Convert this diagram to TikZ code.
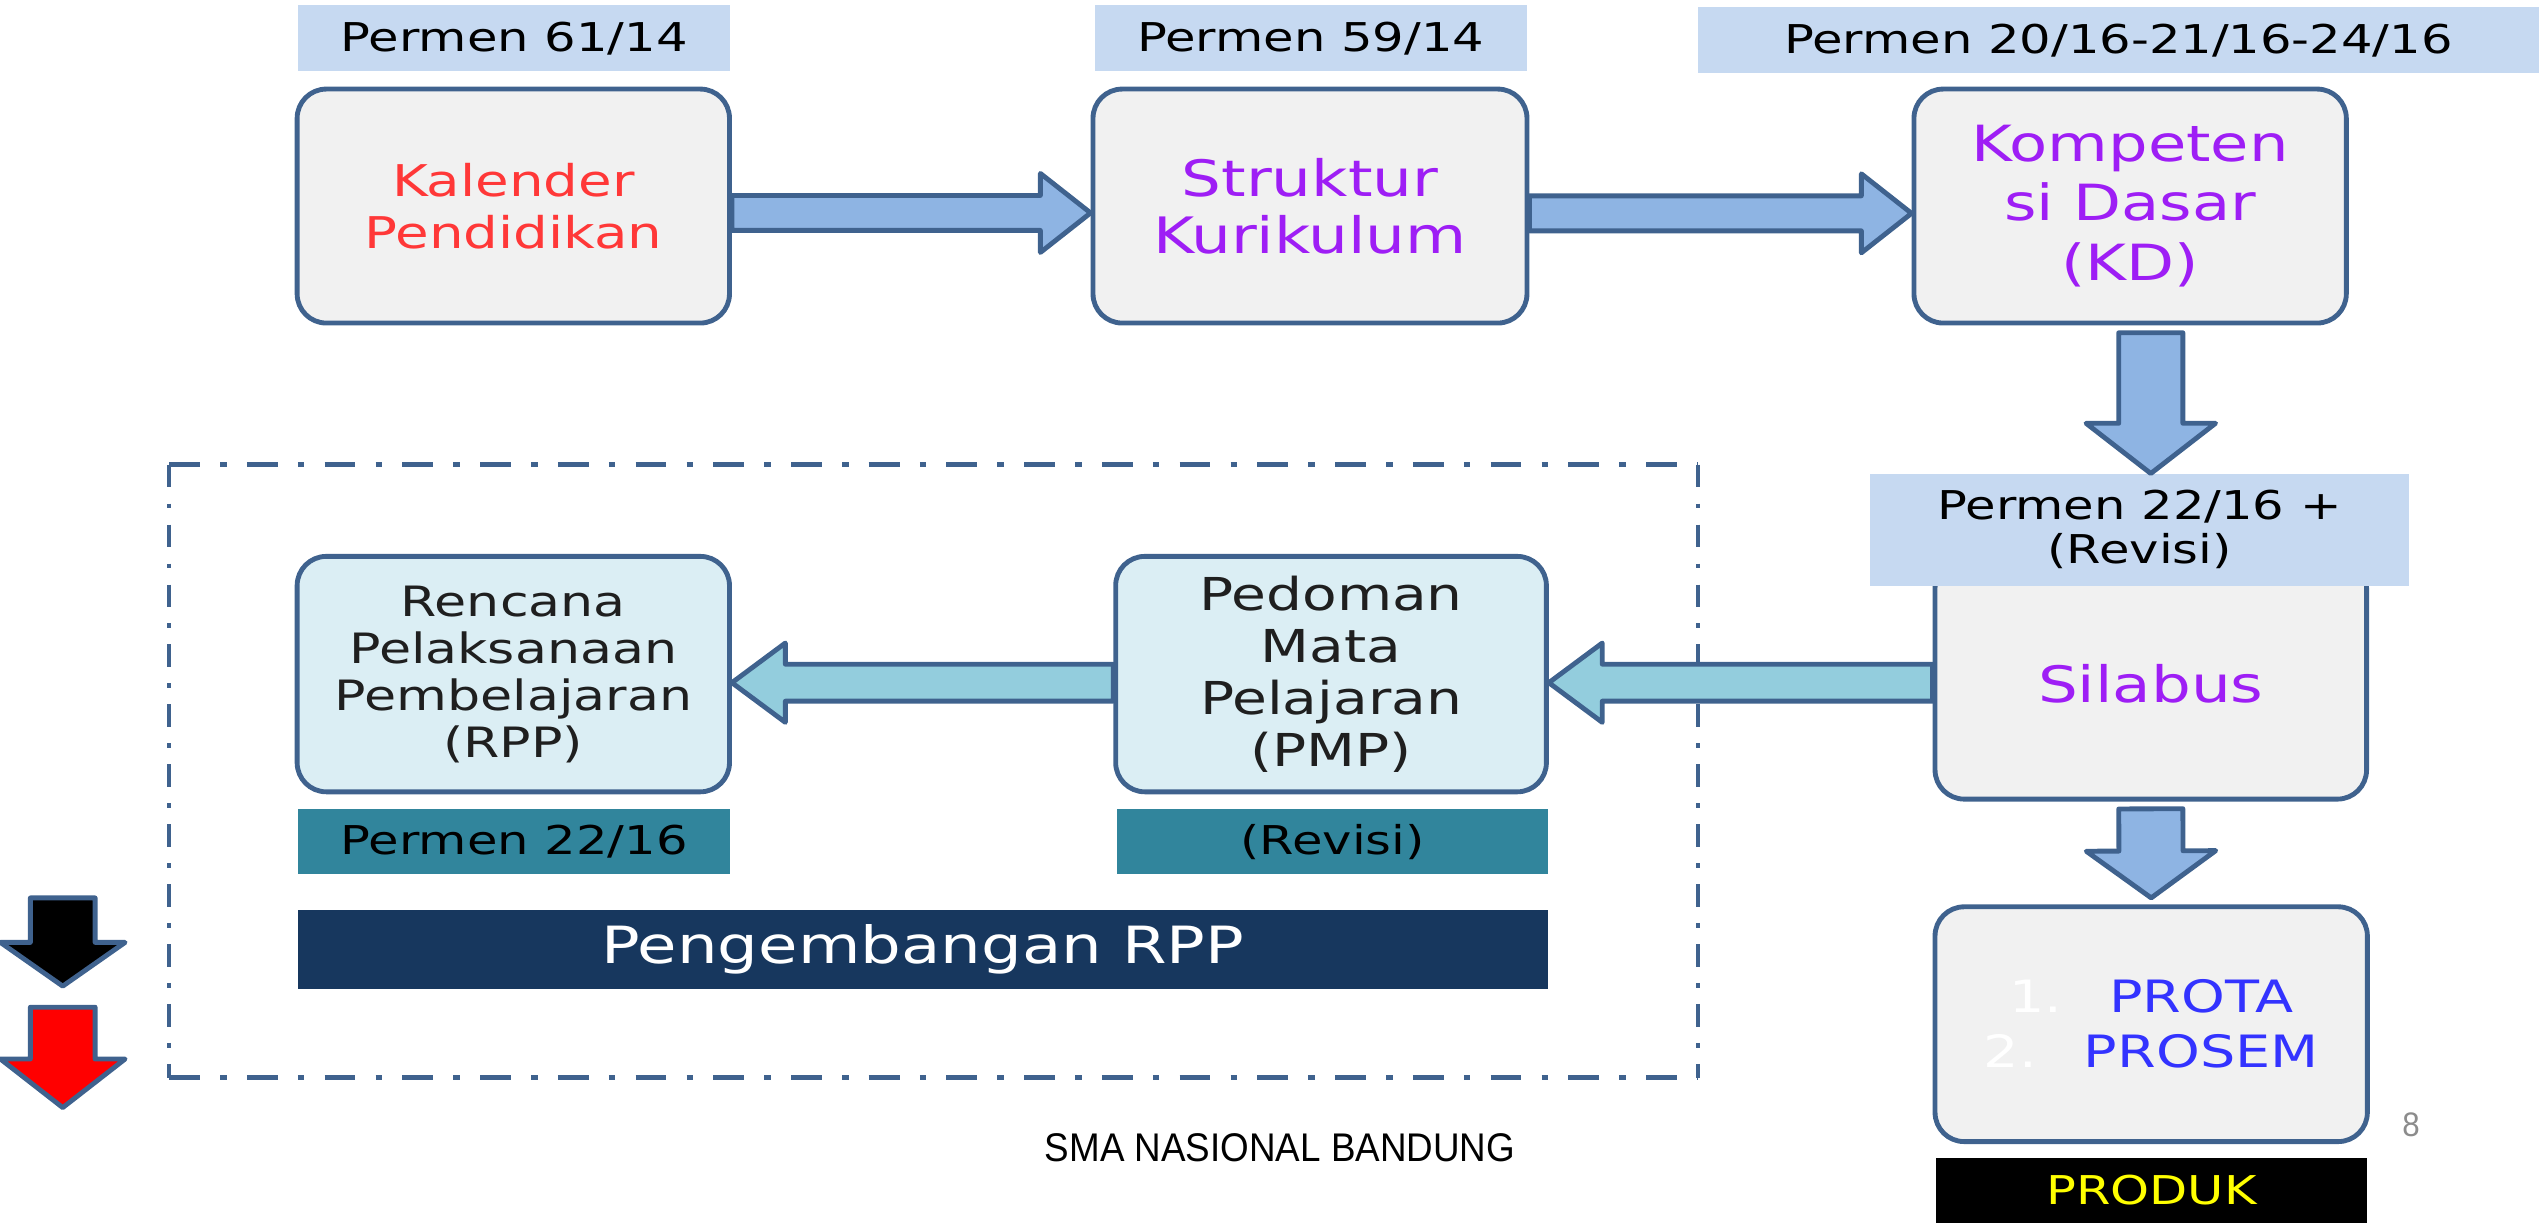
\documentclass[tikz,border=0pt]{standalone}
\usepackage{fontspec}
\setmainfont{DejaVu Sans}[FakeStretch=1.25]
\newfontfamily\smafont{Liberation Sans}[FakeStretch=0.92]
\usetikzlibrary{calc}

\definecolor{edgeblue}{RGB}{63,98,142}
\definecolor{boxgray}{RGB}{241,241,241}
\definecolor{paleblue}{RGB}{219,238,244}
\definecolor{lblue}{RGB}{198,217,241}
\definecolor{arrowblue}{RGB}{142,180,227}
\definecolor{arrowteal}{RGB}{147,205,221}
\definecolor{tealbar}{RGB}{49,133,156}
\definecolor{navybar}{RGB}{23,55,94}
\definecolor{kalred}{RGB}{255,56,56}
\definecolor{kdviolet}{RGB}{158,30,245}
\definecolor{protablue}{RGB}{51,51,255}
\definecolor{produkyellow}{RGB}{255,255,0}
\definecolor{pagegray}{RGB}{140,140,140}

\tikzset{
  fat shaft/.store in=\fatw, fat head/.store in=\fatW, fat len/.store in=\fatL,
  fat shaft=11pt, fat head=24pt, fat len=31pt,
  fatarrow/.style={draw=edgeblue, line width=3pt, line join=round,
    to path={($(\tikztotarget)!\fatL!(\tikztostart)$) coordinate (fb)
      ($(\tikztostart)!\fatw!90:(\tikztotarget)$)
      -- ($(fb)!\fatw!90:(\tikztotarget)$)
      -- ($(fb)!\fatW!90:(\tikztotarget)$)
      -- (\tikztotarget)
      -- ($(fb)!\fatW!-90:(\tikztotarget)$)
      -- ($(fb)!\fatw!-90:(\tikztotarget)$)
      -- ($(\tikztostart)!\fatw!-90:(\tikztotarget)$) -- cycle}}
}

\begin{document}
\begin{tikzpicture}[x=1pt,y=-1pt,
    box/.style={draw=edgeblue, line width=3pt, rounded corners=18pt, fill=boxgray,
      minimum width=267pt, minimum height=144.5pt, align=center, inner sep=2pt},
    lbox/.style={box, fill=paleblue, text={black!88}, minimum height=145.4pt},
    bar/.style={inner sep=0pt, minimum height=41pt, align=center,
      font=\fontsize{24.5}{27}\selectfont},
    frameline/.style={edgeblue, line width=2.8pt}]
  \useasboundingbox (0,0) rectangle (1568,755);

  % top row
  \node[box, text=kalred, font=\fontsize{27}{32.3}\selectfont] (kal) at (317,127.25) {Kalender\\Pendidikan};
  \node[box, text=kdviolet, font=\fontsize{31}{35}\selectfont, minimum width=268pt] (struk) at (809,127.25) {Struktur\\Kurikulum};
  \node[box, text=kdviolet, font=\fontsize{30.8}{36.5}\selectfont] (kd) at (1315.5,127.25) {Kompeten\\si Dasar\\(KD)};

  \node[bar, fill=lblue, minimum width=267pt] (p6114) at (317.5,23.65) {Permen 61/14};
  \node[bar, fill=lblue, minimum width=267pt] (p5914) at (809.5,23.65) {Permen 59/14};
  \node[bar, fill=lblue, minimum width=519.4pt] (p2016) at (1308.3,24.85) {Permen 20/16-21/16-24/16};

  % right column
  \node[box, text=kdviolet, font=\fontsize{31}{36}\selectfont, minimum width=266.5pt, minimum height=148.5pt] (silabus) at (1328.25,419.25) {\raisebox{-3pt}[\height][0pt]{Silabus}};
  \node[bar, fill=lblue, minimum width=332.7pt, minimum height=69pt] (p2216) at (1321.4,327.1) {Permen 22/16 +\\(Revisi)};
  \node[box, text=protablue, font=\fontsize{27.5}{34}\selectfont, minimum height=145pt] (prota) at (1328.5,632.5)
    {{\color{white}1.}\hspace{29pt}PROTA\\{\color{white}2.}\hspace{29pt}PROSEM};
  \node[bar, fill=black, text=produkyellow, minimum width=266.1pt, minimum height=40pt] (produk) at (1328.65,735) {PRODUK};

  % RPP part
  \draw[frameline, dash pattern=on 19pt off 12.5pt on 4pt off 12.5pt] (104.5,287) -- (1048.6,287) (104.5,665.5) -- (1048.6,665.5);
  \draw[frameline, dash pattern=on 14pt off 10pt on 3pt off 10pt] (104.5,287) -- (104.5,665.5) (1048.6,287) -- (1048.6,665.5);
  \node[lbox, font=\fontsize{25.8}{29}\selectfont] (rpp) at (317,416.3) {Rencana\\Pelaksanaan\\Pembelajaran\\(RPP)};
  \node[lbox, font=\fontsize{28}{32}\selectfont, minimum width=266pt] (pmp) at (822,416.3) {Pedoman\\Mata\\Pelajaran\\(PMP)};
  \node[bar, fill=tealbar, minimum width=267pt, minimum height=40.4pt] (prpp) at (317.5,519.8) {Permen 22/16};
  \node[bar, fill=tealbar, minimum width=266pt, minimum height=40.4pt] (ppmp) at (823,519.8) {(Revisi)};
  \node[bar, fill=navybar, text=white, minimum width=771.7pt, minimum height=49pt, font=\fontsize{31.7}{36}\selectfont] (dev) at (569.85,586.5) {Pengembangan RPP};

  % arrows
  \draw[fatarrow, fill=arrowblue, fat shaft=10.8pt, fat head=24.4pt, fat len=31pt] ($(kal.east)+(0,4.25)$) to ($(struk.west)+(0,4.25)$);
  \draw[fatarrow, fill=arrowblue, fat shaft=10.8pt, fat head=24.4pt, fat len=31pt] ($(struk.east)+(0,4.5)$) to ($(kd.west)+(0,4.5)$);
  \draw[fatarrow, fill=arrowblue, fat shaft=19.8pt, fat head=40pt, fat len=31pt] ($(silabus.center |- kd.south)+(0,4.5)$) to (silabus.center |- p2216.north);
  \draw[fatarrow, fill=arrowblue, fat shaft=19.8pt, fat head=40pt, fat len=29pt] ($(silabus.south)+(0,4.5)$) to ($(prota.north)+(0,-4)$);
  \draw[fatarrow, fill=arrowteal, fat shaft=11.4pt, fat head=24.5pt, fat len=33pt] ($(silabus.west)+(0,2.35)$) to ($(pmp.east)+(0,5.3)$);
  \draw[fatarrow, fill=arrowteal, fat shaft=11.4pt, fat head=24.5pt, fat len=33pt] ($(pmp.west)+(0,5.3)$) to ($(rpp.east)+(0,5.3)$);

  % side arrows
  \coordinate (blktop) at (38.75,554.5);
  \coordinate (blktip) at (38.75,609);
  \coordinate (redtop) at (38.75,622);
  \coordinate (redtip) at (38.75,684);
  \draw[fatarrow, fill=black, fat shaft=20pt, fat head=38.5pt, fat len=27pt] (blktop) to (blktip);
  \draw[fatarrow, fill=red, fat shaft=20pt, fat head=38.5pt, fat len=30pt] (redtop) to (redtip);

  % footer
  \node[font=\smafont\fontsize{24.7}{26}\selectfont, anchor=base] (school) at (790.5,717) {SMA NASIONAL BANDUNG};
  \node[font=\smafont\fontsize{21}{21}\selectfont, text=pagegray, anchor=base] (pagenr) at (1489,701.7) {8};
\end{tikzpicture}
\end{document}
